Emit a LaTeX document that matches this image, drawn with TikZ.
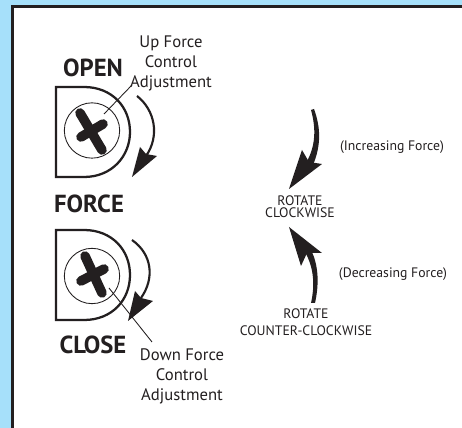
\documentclass[tikz,border=0pt]{standalone}
\usepackage{fontspec}
\setmainfont{PT Sans}
\definecolor{bluebg}{HTML}{A6E0FA}
\definecolor{ink}{HTML}{231F20}
\tikzset{
 thinline/.style={draw=ink,line width=0.65pt},
 body/.style={draw=ink,line width=1.7pt},
 screwbar/.style={draw=ink,line width=7.2pt,line cap=round},
 curve/.style={draw=ink,line width=1.6pt},
 head/.style={fill=ink,draw=none},
 big/.style={font=\fontsize{18.5}{20}\selectfont\bfseries,text=ink,inner sep=0pt},
 lab/.style={font=\fontsize{12.5}{15}\selectfont,text=ink,align=center,inner sep=0pt},
 small/.style={font=\fontsize{10.3}{9}\selectfont,text=ink,align=center,inner sep=0pt},
 smallwide/.style={font=\fontsize{10.3}{12.5}\selectfont,text=ink,align=center,inner sep=0pt},
}
\begin{document}
\begin{tikzpicture}[x=0.75pt,y=-0.75pt]
\useasboundingbox (0,0) rectangle (462,428);
\fill[bluebg] (0,0) rectangle (462,428);
\fill[white] (12.5,6.5) rectangle (462,428);
\draw[draw=ink,line width=2.2pt] (12.5,428) -- (12.5,6.5) -- (462,6.5);
% top
\node[big] (open) at (93,67.5) {OPEN};
\node[lab] (uplab) at (171,63) {Up Force\\Control\\Adjustment};
\draw[body] (56,87) -- (56,177) -- (84,177) .. controls (112,177) and (130,156) .. (130,132) .. controls (130,107) and (112,87) .. (84,87) -- cycle;
\node[circle,thinline,minimum size=41.5pt,inner sep=0pt] (screwa) at (92,130.5) {};
\draw[screwbar] (80,113) -- (102,150);
\draw[screwbar] (81,137) -- (103,124);
\coordinate (uptip) at (104,114);
\coordinate (uptop) at (132,85);
\draw[thinline] (uptip) -- (uptop);
\draw[curve] (137,96) .. controls (155,110) and (160,136) .. (146,156);
\fill[head] (132,177) -- (140,147) -- (146,154) -- (157,156) -- cycle;
\node[big] (force) at (89,204) {FORCE};
% bottom
\draw[body] (56,230) -- (56,320) -- (84,320) .. controls (112,320) and (130,300) .. (130,275) .. controls (130,250) and (112,230) .. (84,230) -- cycle;
\node[circle,thinline,minimum size=41.5pt,inner sep=0pt] (screwb) at (92,276) {};
\draw[screwbar] (85,256) -- (102,293);
\draw[screwbar] (81,281) -- (104,269);
\coordinate (dntip) at (109,288);
\coordinate (dnend) at (152,342);
\draw[thinline] (dntip) -- (dnend);
\draw[curve] (132,240) .. controls (152,254) and (155,278) .. (141,298);
\fill[head] (128,321) -- (135,291) -- (141,298) -- (153,301) -- cycle;
\node[big] (close) at (93,344.5) {CLOSE};
\node[lab] (dnlab) at (182,376.5) {Down Force\\Control\\Adjustment};
% right
\fill[ink] (311,110) .. controls (316,128) and (316,146) .. (306,163) -- (313,165) .. controls (321,146) and (321,128) .. (314,109) -- cycle;
\fill[head] (289,189) -- (302,150) -- (309,162) -- (322,164) -- cycle;
\node[small] (rc) at (300,207) {ROTATE\\CLOCKWISE};
\node[small] (inc) at (392,147) {(Increasing Force)};
\fill[ink] (311,303) .. controls (315,285) and (314,268) .. (305,252) -- (311,250) .. controls (319,266) and (319,285) .. (315,303) -- cycle;
\fill[head] (289,227) -- (322,253) -- (307,253) -- (301,266) -- cycle;
\node[small] (dec) at (393,274.5) {(Decreasing Force)};
\node[smallwide] (rcc) at (306,322) {ROTATE\\COUNTER-CLOCKWISE};
\end{tikzpicture}
\end{document}
